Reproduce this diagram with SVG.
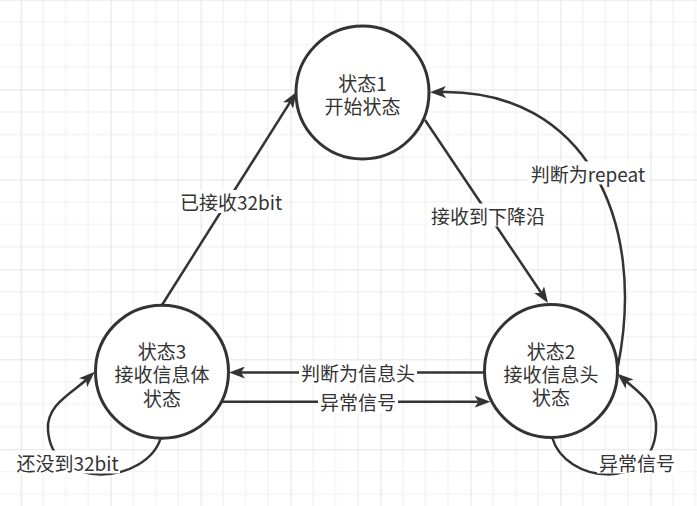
<svg xmlns="http://www.w3.org/2000/svg" width="697" height="506" viewBox="0 0 697 506">
<defs>
<pattern id="grid" patternUnits="userSpaceOnUse" x="20.7" y="-0.47" width="89.96" height="89.96">
<path d="M22.49 0V89.96M44.98 0V89.96M67.47 0V89.96M0 22.49H89.96M0 44.98H89.96M0 67.47H89.96" stroke="#efefef" stroke-width="1" fill="none"/>
<path d="M0.5 0V89.96M0 0.5H89.96" stroke="#e3e3e3" stroke-width="1" fill="none"/>
</pattern>
<marker id="arr" viewBox="0 0 16 12" refX="4" refY="6" markerWidth="16" markerHeight="12" orient="auto" markerUnits="userSpaceOnUse">
<path d="M0,0 L16,6 L0,12 L4,6 Z" fill="#333"/>
</marker>
</defs>
<style>
.node circle{fill:#fff;stroke:#333;stroke-width:3}
text{font-family:"Noto Sans CJK SC","Liberation Sans",sans-serif;font-size:19px;fill:#333;text-anchor:middle;dominant-baseline:central}
.edge{fill:none;stroke:#333;stroke-width:2.5;marker-end:url(#arr)}
.lbl{fill:#fff}
</style>
<rect width="697" height="506" fill="#fff"/>
<rect width="697" height="506" fill="url(#grid)"/>
<g id="connectors">
<g id="e31"><path class="edge" d="M162 305 L290.1 102.2"/><rect class="lbl" x="178" y="190" width="106" height="23"/><text x="231" y="201.5">已接收32bit</text></g>
<g id="e12"><path class="edge" d="M425 120 L541.3 293"/><rect class="lbl" x="429" y="203.5" width="118" height="23"/><text x="488" y="215">接收到下降沿</text></g>
<g id="e21"><path class="edge" d="M618 366 C 647 220, 585 90, 442 92"/><rect class="lbl" x="528" y="161.5" width="121" height="23"/><text x="588" y="173">判断为repeat</text></g>
<g id="e23"><path class="edge" d="M484 372.5 L241 372.5"/><rect class="lbl" x="299" y="361" width="118" height="23"/><text x="358" y="372.5">判断为信息头</text></g>
<g id="e32"><path class="edge" d="M222 401.7 L478.5 401.7"/><rect class="lbl" x="318" y="390" width="80" height="23"/><text x="358" y="401.7">异常信号</text></g>
<g id="e33"><path class="edge" d="M161 437 C 148 484, 52 492, 48 430 C 46 405, 72 393, 86 380"/><rect class="lbl" x="15" y="450.5" width="105" height="23"/><text x="67.5" y="462">还没到32bit</text></g>
<g id="e22"><path class="edge" d="M552 437 C 565 484, 652 492, 656 430 C 658 405, 640 393, 626.5 381.5"/><rect class="lbl" x="597" y="450.5" width="80" height="23"/><text x="637" y="462">异常信号</text></g>
</g>
<g id="state1" class="node"><circle cx="362.5" cy="92.5" r="66.5"/><text><tspan x="362.5" y="81.5">状态1</tspan><tspan x="362.5" y="104.8">开始状态</tspan></text></g>
<g id="state3" class="node"><circle cx="162" cy="371.7" r="66.5"/><text><tspan x="162" y="350">状态3</tspan><tspan x="162" y="373.3">接收信息体</tspan><tspan x="162" y="396.6">状态</tspan></text></g>
<g id="state2" class="node"><circle cx="551" cy="371" r="66.5"/><text><tspan x="551" y="349.5">状态2</tspan><tspan x="551" y="372.8">接收信息头</tspan><tspan x="551" y="396.1">状态</tspan></text></g>
</svg>
